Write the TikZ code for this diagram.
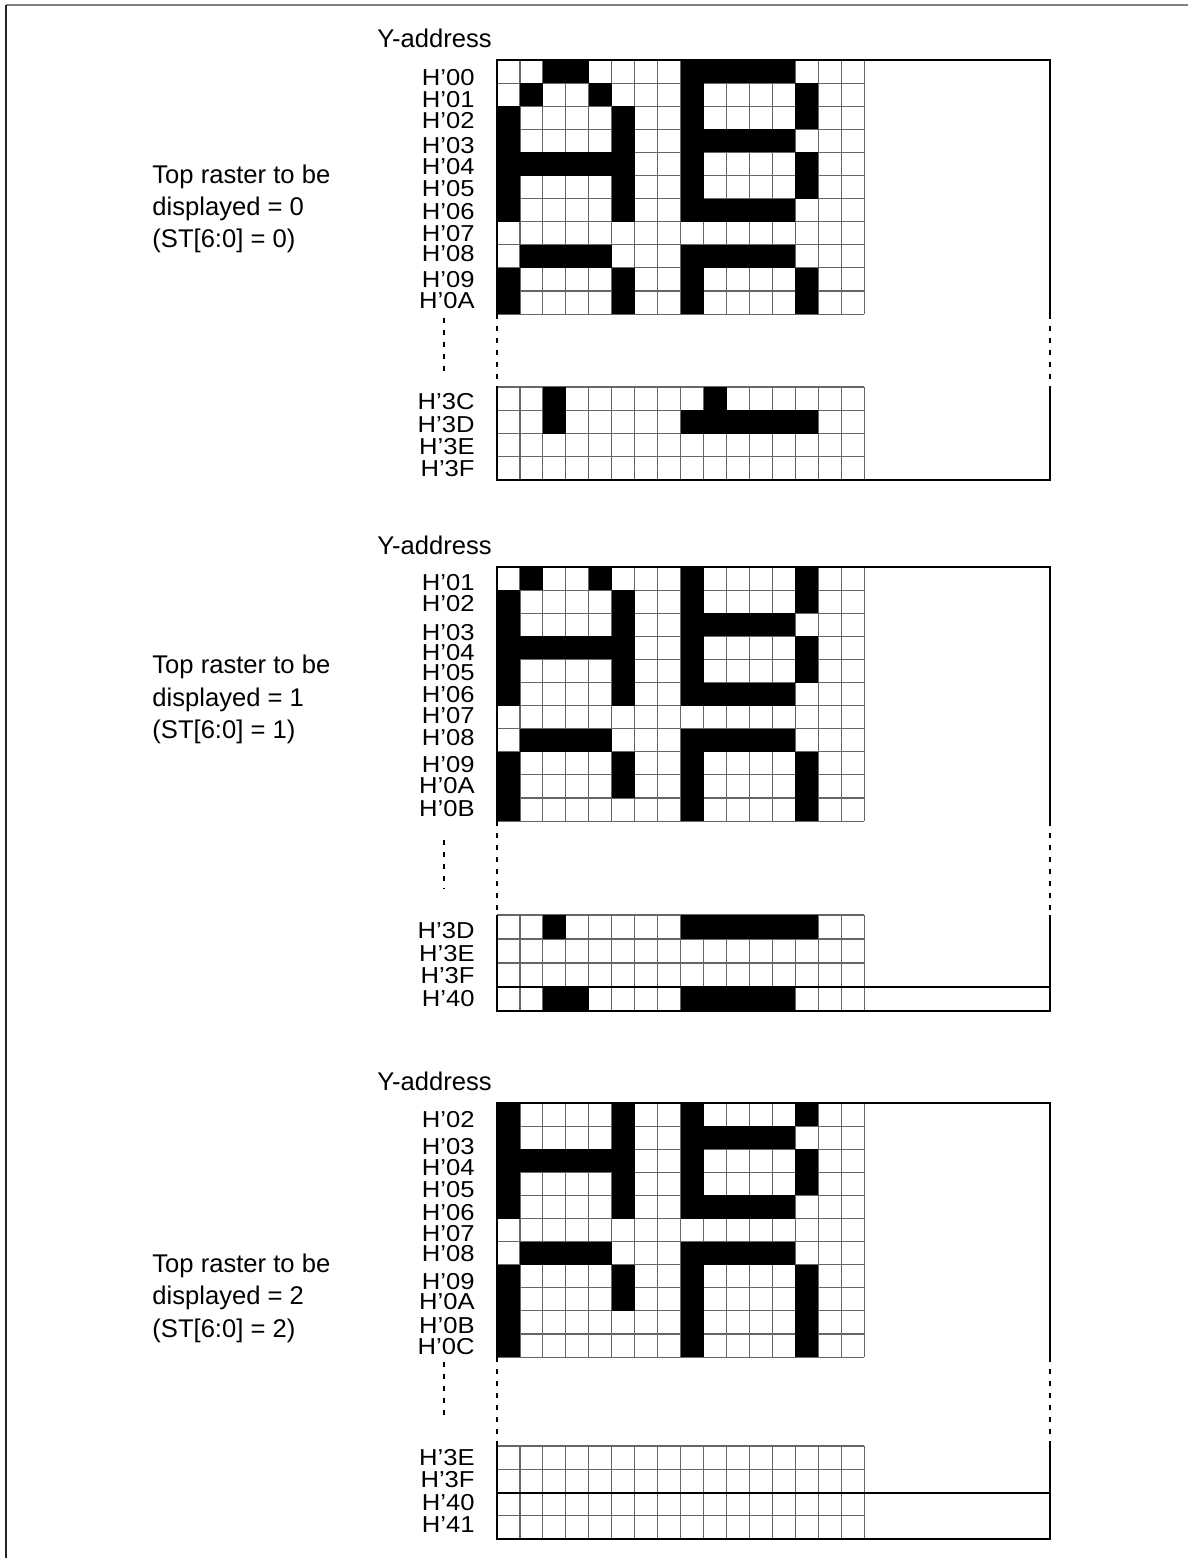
\documentclass[tikz,border=0pt]{standalone}
\usepackage{fontspec}
\setmainfont{Liberation Sans}
\newcommand{\rasterlines}[3]{% #1 top, #2 rows, #3 row height
  \foreach \k in {0,...,16} \draw[gridln] ({497+\k*22.95},#1) -- ({497+\k*22.95},{#1+#2*#3});
  \foreach \r in {0,...,#2} \draw[gridln] (497,{#1+\r*#3}) -- (864,{#1+\r*#3});
}
\newcommand{\rasterfill}[3]{% #1 top, #2 row height, #3 list row/c1/c2
  \foreach \r/\a/\b in {#3} \fill[blk] ({497+\a*22.95},{#1+\r*#2}) rectangle ({497+(\b+1)*22.95},{#1+(\r+1)*#2});
}
\newcommand{\rasterbox}[6]{% #1 T1, #2 B1, #3 T2, #4 B2, #5 label dash start, #6 label dash end
  \draw[boxln] (497,#2) -- (497,#1) -- (1050,#1) -- (1050,#2);
  \draw[dashln] (497,#2) -- (497,#3);
  \draw[dashln] (1050,#2) -- (1050,#3);
  \draw[dashln] (444,#5) -- (444,#6);
  \draw[boxln] (497,#3) -- (497,#4) -- (1050,#4) -- (1050,#3);
}
\begin{document}
\begin{tikzpicture}[x=0.5pt,y=-0.5pt,
  gridln/.style={draw=black!60, line width=0.55pt},
  boxln/.style={draw=black, line width=1pt},
  dashln/.style={draw=black, line width=1pt, dash pattern=on 2.5pt off 3.5pt},
  lbl/.style={anchor=east, inner sep=0pt, font=\fontsize{12.8}{15}\selectfont},
  txt/.style={anchor=base west, inner sep=0pt, font=\fontsize{12.8}{15}\selectfont},
  blk/.style={fill=black}]
\useasboundingbox (0,0) rectangle (1188,1558);
\draw[draw=black!50, line width=0.9pt] (6,5) -- (1188,5);
\draw[draw=black!85, line width=0.9pt] (6,5) -- (6,1558);

% ---------- Panel 1 ----------
\rasterlines{60}{11}{23.1}
\rasterlines{387}{4}{23.25}
\rasterfill{60}{23.1}{0/2/3, 0/8/12,
  1/1/1, 1/4/4, 1/8/8, 1/13/13,
  2/0/0, 2/5/5, 2/8/8, 2/13/13,
  3/0/0, 3/5/5, 3/8/12,
  4/0/5, 4/8/8, 4/13/13,
  5/0/0, 5/5/5, 5/8/8, 5/13/13,
  6/0/0, 6/5/5, 6/8/12,
  8/1/4, 8/8/12,
  9/0/0, 9/5/5, 9/8/8, 9/13/13,
  10/0/0, 10/5/5, 10/8/8, 10/13/13}
\rasterfill{387}{23.25}{0/2/2, 0/9/9, 1/2/2, 1/8/13}
\rasterbox{60}{314.1}{387}{480}{318}{377}
\node[txt] (ya1) at (377,47) {Y-address};
\node[txt] (ta1) at (152,183) {Top raster to be};
\node[txt] (tb1) at (152,215) {displayed = 0};
\node[txt] (tc1) at (152,247) {(ST[6:0] = 0)};
\foreach \y/\t [count=\i] in {78/00, 100/01, 121/02, 146/03, 167/04, 189/05, 212/06, 234/07, 254/08, 280/09, 301/0A, 402/3C, 425/3D, 447/3E, 469/3F}
  \node[lbl] (pa\i) at (475,\y) {\scalebox{1}[0.9]{H’\t}};

% ---------- Panel 2 ----------
\rasterlines{567}{11}{23.1}
\rasterlines{915}{4}{24}
\rasterfill{567}{23.1}{0/1/1, 0/4/4, 0/8/8, 0/13/13,
  1/0/0, 1/5/5, 1/8/8, 1/13/13,
  2/0/0, 2/5/5, 2/8/12,
  3/0/5, 3/8/8, 3/13/13,
  4/0/0, 4/5/5, 4/8/8, 4/13/13,
  5/0/0, 5/5/5, 5/8/12,
  7/1/4, 7/8/12,
  8/0/0, 8/5/5, 8/8/8, 8/13/13,
  9/0/0, 9/5/5, 9/8/8, 9/13/13,
  10/0/0, 10/8/8, 10/13/13}
\rasterfill{915}{24}{0/2/2, 0/8/13, 3/2/3, 3/8/12}
\rasterbox{567}{821.1}{915}{1011}{840}{889}
\draw[boxln] (497,987) -- (1050,987);
\node[txt] (ya2) at (377,554) {Y-address};
\node[txt] (ta2) at (152,673) {Top raster to be};
\node[txt] (tb2) at (152,706) {displayed = 1};
\node[txt] (tc2) at (152,738) {(ST[6:0] = 1)};
\foreach \y/\t [count=\i] in {583/01, 604/02, 633/03, 653/04, 673/05, 695/06, 716/07, 738/08, 765/09, 786/0A, 809/0B, 931/3D, 954/3E, 976/3F, 999/40}
  \node[lbl] (pb\i) at (475,\y) {\scalebox{1}[0.9]{H’\t}};

% ---------- Panel 3 ----------
\rasterlines{1103}{11}{23.1}
\rasterlines{1446}{4}{23.25}
\rasterfill{1103}{23.1}{0/0/0, 0/5/5, 0/8/8, 0/13/13,
  1/0/0, 1/5/5, 1/8/12,
  2/0/5, 2/8/8, 2/13/13,
  3/0/0, 3/5/5, 3/8/8, 3/13/13,
  4/0/0, 4/5/5, 4/8/12,
  6/1/4, 6/8/12,
  7/0/0, 7/5/5, 7/8/8, 7/13/13,
  8/0/0, 8/5/5, 8/8/8, 8/13/13,
  9/0/0, 9/8/8, 9/13/13,
  10/0/0, 10/8/8, 10/13/13}
\rasterbox{1103}{1357.1}{1446}{1539}{1362}{1420}
\draw[boxln] (497,1492.5) -- (1050,1492.5);
\node[txt] (ya3) at (377,1090) {Y-address};
\node[txt] (ta3) at (152,1272) {Top raster to be};
\node[txt] (tb3) at (152,1304) {displayed = 2};
\node[txt] (tc3) at (152,1337) {(ST[6:0] = 2)};
\foreach \y/\t [count=\i] in {1120/02, 1147/03, 1168/04, 1190/05, 1213/06, 1234/07, 1254/08, 1282/09, 1302/0A, 1326/0B, 1347/0C, 1458/3E, 1480/3F, 1503/40, 1525/41}
  \node[lbl] (pc\i) at (475,\y) {\scalebox{1}[0.9]{H’\t}};
\end{tikzpicture}
\end{document}
